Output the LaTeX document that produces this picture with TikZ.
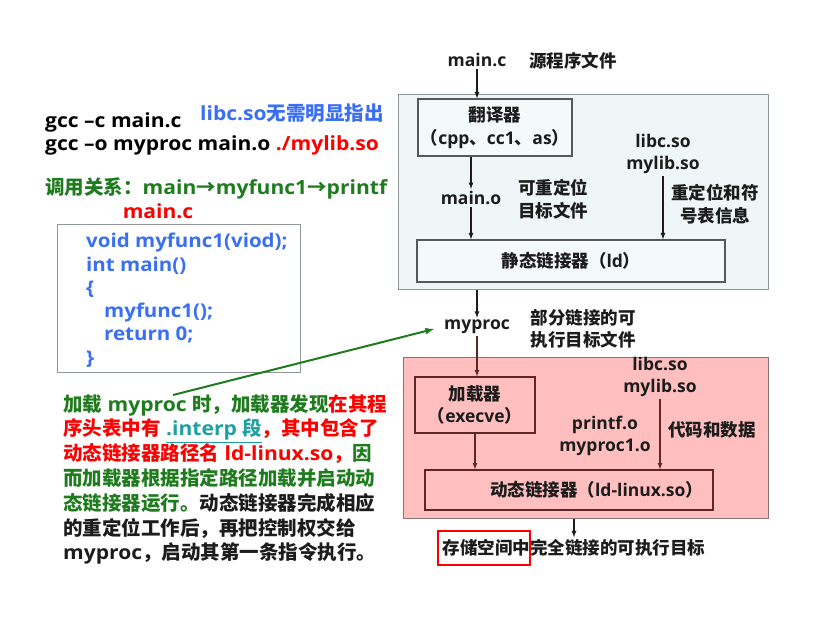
\documentclass[tikz,border=0pt]{standalone}
\usepackage{fontspec}
\setmainfont{Open Sans}
\newfontfamily\widefont{Open Sans}[FakeStretch=1.08]
\newfontfamily\zhfont{Noto Sans CJK SC}
\newcommand{\zh}[1]{{\zhfont #1}}

\definecolor{callgreen}{HTML}{1E7B1E}
\definecolor{hintblue}{HTML}{3A6FF2}
\definecolor{interp}{HTML}{1FA0A0}
\definecolor{txtgray}{HTML}{1C1C1C}
\definecolor{staticbg}{HTML}{EEF6F8}
\definecolor{framegray}{HTML}{8F9699}
\definecolor{innerbg}{HTML}{F4F9FA}
\definecolor{innergray}{HTML}{55595B}
\definecolor{pinkbg}{HTML}{FFBFBF}
\definecolor{pinkframe}{HTML}{8C7373}
\definecolor{maroon}{HTML}{5E2626}

\begin{document}
\begin{tikzpicture}[x=1pt, y=-1pt, >=latex,
    big/.style={font=\fontsize{19.5}{24.8}\selectfont\widefont\bfseries, inner sep=2pt},
    small/.style={font=\fontsize{17.5}{22.5}\selectfont\bfseries, inner sep=2pt, text=txtgray},
    blk/.style={rectangle, small, line width=1.2pt, align=center},
    flow/.style={->, line width=1.2pt, draw=txtgray}]
    \useasboundingbox (0,0) rectangle (829,617);

    % left column
    \node (GCCC) at ( 43, 122) [big, anchor=west] {gcc –c main.c};
    \node (HINT) at (198, 113) [big, anchor=west, text=hintblue] {libc.so\zh{无需明显指出}};
    \node (GCCO) at ( 43, 145) [big, anchor=west] {gcc –o myproc main.o \textcolor{red}{./mylib.so}};
    \node (CALL) at ( 43, 188) [big, anchor=west, text=callgreen] {\zh{调用关系：}main\zh{→}myfunc1\zh{→}printf};
    \node (SRC)  at (158, 211) [big, text=red] {main.c};

    \node (CODEBOX) at (178.5, 298.5) [rectangle, draw=framegray, line width=1pt, minimum width=243pt, minimum height=147pt] {};
    \node (CODE) at (84, 231) [big, anchor=north west, align=left, text=hintblue, font=\fontsize{19}{23.3}\selectfont\widefont\bfseries]
        {void myfunc1(viod);\\int main()\\\{\\\hspace{18pt}myfunc1();\\\hspace{18pt}return 0;\\\}};

    \node (NOTE) at (61, 392) [big, anchor=north west, align=left, text=txtgray]
        {{\color{callgreen}\zh{加载} myproc \zh{时，加载器发现}}{\color{red}\zh{在其程}}\\
         {\color{red}\zh{序头表中有} }{\color{interp}\underline{.interp \zh{段}}}{\color{red}\zh{，其中包含了}}\\
         {\color{red}\zh{动态链接器路径名} ld-linux.so\zh{，}}{\color{callgreen}\zh{因}}\\
         {\color{callgreen}\zh{而加载器根据指定路径加载并启动动}}\\
         {\color{callgreen}\zh{态链接器运行。}}\zh{动态链接器完成相应}\\
         \zh{的重定位工作后，再把控制权交给}\\
         myproc\zh{，启动其第一条指令执行。}};

    \coordinate (TAIL) at (173, 395);

    %-----

    \node (MAINC) at (477,  60) [small] {main.c};
    \node (SRCN)  at (573,  61) [small] {\zh{源程序文件}};

    \node (STATIC) at (583, 192.5) [rectangle, draw=framegray, fill=staticbg, line width=1pt, minimum width=370pt, minimum height=195pt] {};
    \node (CC)  at (495, 127.5) [blk, draw=innergray, fill=innerbg, minimum width=154pt, minimum height=57pt] {\zh{翻译器}\\\zh{（}cpp\zh{、}cc1\zh{、}as\zh{）}};
    \node (MAINO) at (471, 198) [small] {main.o};
    \node (RELOC) at (553, 199) [small, align=left] {\zh{可重定位}\\\zh{目标文件}};
    \node (LIBS)  at (663, 154) [small, align=center] {libc.so\\mylib.so};
    \node (SYM)   at (715, 204) [small, align=center] {\zh{重定位和符}\\\zh{号表信息}};
    \node (LD)    at (571, 261) [blk, draw=innergray, fill=innerbg, minimum width=308pt, minimum height=42pt] {\zh{静态链接器（}ld\zh{）}};

    \draw[flow] (MAINC.south) -- (MAINC.south |- CC.north);
    \draw[flow] (CC.south -| MAINO) -- (MAINO.north);
    \draw[flow] (MAINO.south) -- (MAINO.south |- LD.north);
    \draw[flow] (LIBS.south) -- (LIBS.south |- LD.north);

    %-----

    \node (MYPROC) at (477, 327) [small] {myproc};
    \node (PART)   at (583, 329) [small, align=left] {\zh{部分链接的可}\\\zh{执行目标文件}};

    \draw[flow] (STATIC.south -| MYPROC) -- (MYPROC.north);
    \draw[->, line width=2pt, callgreen, shorten >=8pt] (TAIL) -- (MYPROC.west);

    %-----

    \node (DYN)    at (585.5, 437.5) [rectangle, draw=pinkframe, fill=pinkbg, line width=1pt, minimum width=365pt, minimum height=161pt] {};
    \node (LOADER) at (475, 405) [blk, draw=maroon, fill=pinkbg, minimum width=120pt, minimum height=56pt] {\zh{加载器}\\\zh{（}execve\zh{）}};
    \node (LIBS2)  at (660, 377) [small, align=center] {libc.so\\mylib.so};
    \node (OBJS)   at (605, 436) [small, align=center] {printf.o\\myproc1.o};
    \node (DATA)   at (712, 430) [small] {\zh{代码和数据}};
    \node (DLD)    at (569, 490) [blk, draw=maroon, fill=pinkbg, align=right, text width=268pt, inner xsep=10pt, minimum height=40pt] {\zh{动态链接器（}ld-linux.so\zh{）}};

    \draw[flow, draw=maroon] (MYPROC.south) -- (MYPROC.south |- LOADER.north);
    \draw[flow, draw=maroon] (LOADER.south) -- (LOADER.south |- DLD.north);
    \draw[flow, draw=maroon] (LIBS2.south) -- (LIBS2.south |- DLD.north);

    %-----

    \node (RESULT) at (574, 548) [small] {\zh{存储空间中完全链接的可执行目标}};
    \node (MARK)   at (484, 548) [rectangle, draw=red, line width=2pt, minimum width=92pt, minimum height=34pt] {};

    \draw[flow] (DYN.south -| RESULT) -- (RESULT.north);
\end{tikzpicture}
\end{document}
